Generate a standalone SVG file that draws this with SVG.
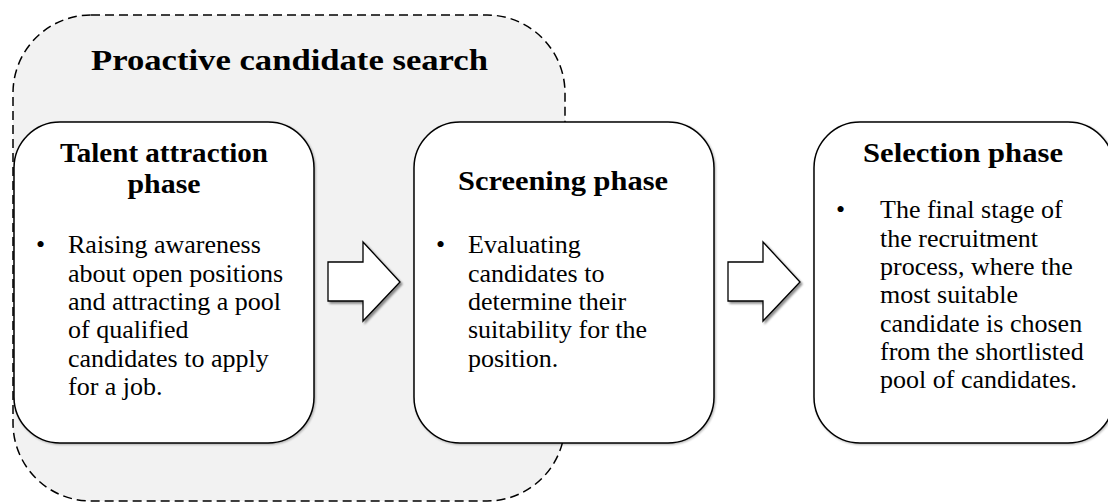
<svg xmlns="http://www.w3.org/2000/svg" width="1108" height="504" viewBox="0 0 1108 504">
  <defs>
    <filter id="soft-shadow" x="-10%" y="-10%" width="130%" height="130%">
      <feGaussianBlur in="SourceAlpha" stdDeviation="1.2"/>
      <feOffset dx="1.5" dy="1.8" result="off"/>
      <feComponentTransfer><feFuncA type="linear" slope="0.45"/></feComponentTransfer>
      <feMerge><feMergeNode/><feMergeNode in="SourceGraphic"/></feMerge>
    </filter>
    <filter id="box-shadow" x="-5%" y="-5%" width="110%" height="110%">
      <feGaussianBlur in="SourceAlpha" stdDeviation="0.8"/>
      <feOffset dx="0.8" dy="1" result="off"/>
      <feComponentTransfer><feFuncA type="linear" slope="0.3"/></feComponentTransfer>
      <feMerge><feMergeNode/><feMergeNode in="SourceGraphic"/></feMerge>
    </filter>
    <style>
      .group-frame { fill: #f2f2f2; stroke: #000; stroke-width: 1.5; stroke-dasharray: 9 5; }
      .phase-box { fill: #fff; stroke: #000; stroke-width: 1.5; filter: url(#box-shadow); }
      .flow-arrow { fill: #fff; stroke: #000; stroke-width: 1.3; stroke-linejoin: miter; filter: url(#soft-shadow); }
      .heading { font-family: "Liberation Serif", "Times New Roman", serif; font-weight: bold; fill: #000; text-anchor: middle; }
      .body { font-family: "Liberation Serif", "Times New Roman", serif; font-size: 26px; fill: #000; }
    </style>
  </defs>

  <!-- Dashed grouping frame around the first two phases -->
  <g id="proactive-search">
    <rect class="group-frame" x="13" y="15" width="552" height="486" rx="78" ry="78"/>
    <text class="heading" x="289.5" y="70" font-size="30" textLength="397" lengthAdjust="spacingAndGlyphs">Proactive candidate search</text>
  </g>

  <!-- Phase 1 -->
  <g id="talent-attraction">
    <rect class="phase-box" x="14" y="122" width="300" height="321" rx="46" ry="46"/>
    <text class="heading" x="164" y="162" font-size="28" textLength="208" lengthAdjust="spacingAndGlyphs">Talent attraction</text>
    <text class="heading" x="164" y="193" font-size="28" textLength="73" lengthAdjust="spacingAndGlyphs">phase</text>
    <text class="body" x="36" y="253">•</text>
    <text class="body">
      <tspan x="68" y="253">Raising awareness</tspan>
      <tspan x="68" y="282">about open positions</tspan>
      <tspan x="68" y="310">and attracting a pool</tspan>
      <tspan x="68" y="338">of qualified</tspan>
      <tspan x="68" y="367">candidates to apply</tspan>
      <tspan x="68" y="395">for a job.</tspan>
    </text>
  </g>

  <!-- Phase 2 -->
  <g id="screening">
    <rect class="phase-box" x="414" y="122" width="300" height="321" rx="46" ry="46"/>
    <text class="heading" x="563" y="190" font-size="28" textLength="210" lengthAdjust="spacingAndGlyphs">Screening phase</text>
    <text class="body" x="436" y="253">•</text>
    <text class="body">
      <tspan x="468" y="253">Evaluating</tspan>
      <tspan x="468" y="282">candidates to</tspan>
      <tspan x="468" y="310">determine their</tspan>
      <tspan x="468" y="338">suitability for the</tspan>
      <tspan x="468" y="367">position.</tspan>
    </text>
  </g>

  <!-- Phase 3 -->
  <g id="selection">
    <rect class="phase-box" x="814" y="122" width="300" height="321" rx="46" ry="46"/>
    <text class="heading" x="963" y="162" font-size="28" textLength="200" lengthAdjust="spacingAndGlyphs">Selection phase</text>
    <text class="body" x="836" y="218">•</text>
    <text class="body">
      <tspan x="880" y="218">The final stage of</tspan>
      <tspan x="880" y="247">the recruitment</tspan>
      <tspan x="880" y="275">process, where the</tspan>
      <tspan x="880" y="303">most suitable</tspan>
      <tspan x="880" y="332">candidate is chosen</tspan>
      <tspan x="880" y="360">from the shortlisted</tspan>
      <tspan x="880" y="388">pool of candidates.</tspan>
    </text>
  </g>

  <!-- Block arrows between phases -->
  <g id="connectors">
    <polygon class="flow-arrow" points="328,262 363,262 363,242 400,282 363,321 363,301 328,301"/>
    <polygon class="flow-arrow" points="728,262 763,262 763,242 800,282 763,321 763,301 728,301"/>
  </g>
</svg>
